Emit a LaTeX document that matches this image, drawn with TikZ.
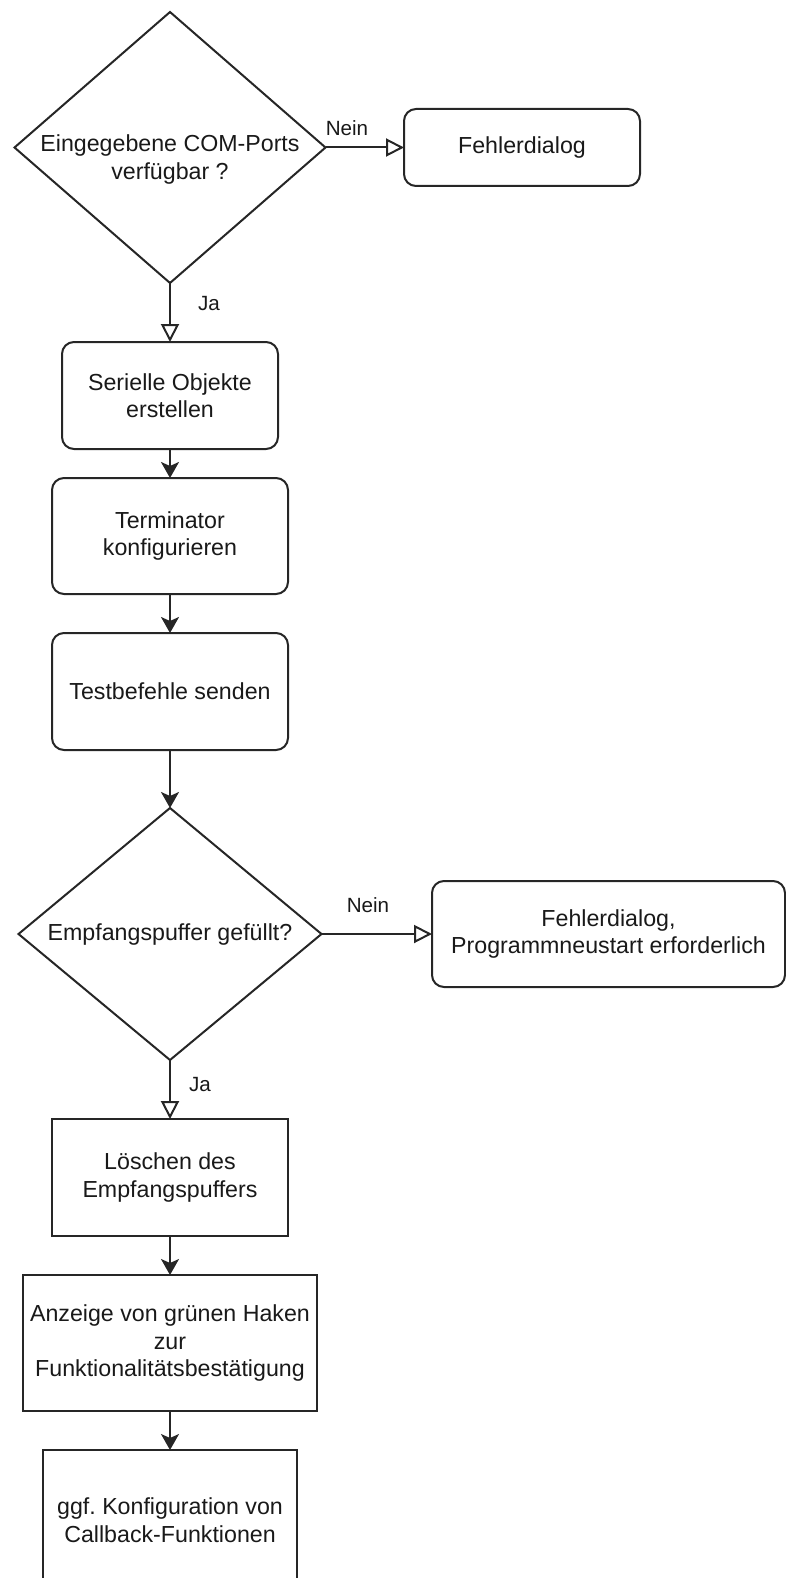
\documentclass[tikz,border=0pt]{standalone}
\usepackage{fontspec}
\setmainfont{Liberation Sans}
\usetikzlibrary{positioning, arrows.meta, shapes.geometric}
\frenchspacing

\newcommand\boxfont{\fontsize{11.6}{13.75}\selectfont}
\newcommand\edgefont{\fontsize{10.3}{12}\selectfont}

\tikzset{
  base/.style={draw=black!85, line width=1pt, outer sep=0pt, inner sep=0pt,
    align=center, text=black!90, font=\boxfont},
  stepbox/.style={base, rectangle, rounded corners=6pt},
  plainbox/.style={base, rectangle},
  decision/.style={base, diamond},
  inside/.style={align=center, text=black!90, font=\boxfont, inner sep=0pt},
  lbl/.style={text=black!90, font=\edgefont, inner sep=0pt},
  flow/.style={draw=black!85, line width=1pt,
    -{Stealth[length=8pt, width=9pt, inset=2pt]}},
  branch/.style={draw=black!85, line width=1pt,
    -{Triangle[open, length=9pt, width=9pt]}},
}

\begin{document}
\begin{tikzpicture}[x=0.5pt, y=-0.5pt]
  \clip (0,0) rectangle (786,1578);

  % check of the entered ports
  \node[decision, minimum width=155.5pt, minimum height=135.5pt,
    label={[inside, yshift=-6pt]center:{Eingegebene COM-Ports\\verfügbar ?}}] (ports) at (170,147.5) {};
  \node[stepbox, minimum width=118pt, minimum height=38.5pt] (err1) at (522,147.5) {Fehlerdialog};

  % setup steps
  \node[stepbox, minimum width=108pt, minimum height=53.5pt] (serial) at (170,395.5) {Serielle Objekte\\erstellen};
  \node[stepbox, minimum width=118pt, minimum height=58pt] (term) at (170,536) {Terminator\\konfigurieren};
  \node[stepbox, minimum width=118pt, minimum height=58.5pt] (test) at (170,691.5) {Testbefehle senden};

  % receive buffer
  \node[decision, minimum width=151.5pt, minimum height=126pt,
    label={[inside]center:Empfangspuffer gefüllt?}] (buffer) at (170,934) {};
  \node[stepbox, minimum width=176.5pt, minimum height=53pt] (err2) at (608.5,934) {Fehlerdialog,\\Programmneustart erforderlich};

  % final steps
  \node[plainbox, minimum width=118pt, minimum height=58.5pt] (clear) at (170,1177.5) {Löschen des\\Empfangspuffers};
  \node[plainbox, minimum width=147pt, minimum height=68pt] (check) at (170,1343) {Anzeige von grünen Haken\\zur\\Funktionalitätsbestätigung};
  \node[plainbox, minimum width=127pt, minimum height=70pt] (callback) at (170,1520) {ggf. Konfiguration von\\Callback-Funktionen};

  % connectors
  \draw[branch] (ports.east) -- (err1.west);
  \draw[branch] (ports.south) -- (serial.north);
  \draw[flow] (serial) -- (term);
  \draw[flow] (term) -- (test);
  \draw[flow] (test) -- (buffer);
  \draw[branch] (buffer.east) -- (err2.west);
  \draw[branch] (buffer.south) -- (clear.north);
  \draw[flow] (clear) -- (check);
  \draw[flow] (check) -- (callback);

  % branch labels
  \node[lbl] (no1) at (347,128) {Nein};
  \node[lbl] (yes1) at (209,304) {Ja};
  \node[lbl] (no2) at (368,905) {Nein};
  \node[lbl] (yes2) at (200,1085) {Ja};
\end{tikzpicture}
\end{document}
